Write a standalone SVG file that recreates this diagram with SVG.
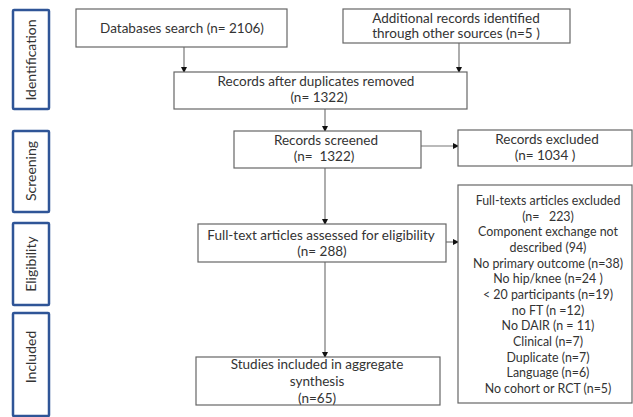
<svg xmlns="http://www.w3.org/2000/svg" width="633" height="417" viewBox="0 0 633 417">
<style>
.box{fill:#fff;stroke:#666;stroke-width:1.2}
.side{fill:#fff;stroke:#2f5597;stroke-width:2.5}
.t{font-family:Lato,"Liberation Sans",sans-serif;font-size:13.5px;fill:#333;text-anchor:middle;white-space:pre}
.s{font-family:Lato,"Liberation Sans",sans-serif;font-size:12.4px;fill:#333;text-anchor:middle;white-space:pre}
.st{font-family:Lato,"Liberation Sans",sans-serif;font-size:14px;fill:#333;text-anchor:middle}
.c{stroke:#777;stroke-width:1.2;fill:none;marker-end:url(#ah)}
</style>
<defs>
<marker id="ah" markerWidth="6" markerHeight="6" refX="5" refY="3" orient="auto" markerUnits="userSpaceOnUse">
<path d="M0,0 L6,3 L0,6 Z" fill="#111"/>
</marker>
</defs>
<rect width="633" height="417" fill="#fff"/>
<g id="stage-identification">
<rect class="side" x="13" y="10" width="36" height="99" rx="1"/>
<text class="st" transform="translate(36,60) rotate(-90)">Identification</text>
</g>
<g id="stage-screening">
<rect class="side" x="13" y="131" width="36" height="81" rx="1"/>
<text class="st" transform="translate(36,171) rotate(-90)">Screening</text>
</g>
<g id="stage-eligibility">
<rect class="side" x="13" y="223" width="36" height="82" rx="1"/>
<text class="st" transform="translate(36,264) rotate(-90)">Eligibility</text>
</g>
<g id="stage-included">
<rect class="side" x="13" y="313" width="36" height="103" rx="1"/>
<text class="st" transform="translate(36,357) rotate(-90)">Included</text>
</g>
<g id="connectors">
<line class="c" x1="184" y1="47" x2="184" y2="72"/>
<line class="c" x1="459" y1="43" x2="459" y2="72"/>
<line class="c" x1="325" y1="109" x2="325" y2="131"/>
<line class="c" x1="421" y1="146" x2="458" y2="146"/>
<line class="c" x1="325" y1="168" x2="325" y2="224"/>
<line class="c" x1="446" y1="242" x2="458" y2="242"/>
<line class="c" x1="325" y1="262" x2="325" y2="357"/>
</g>
<g id="databases">
<rect class="box" x="76" y="9" width="211" height="38"/>
<text class="t" x="182" y="33">Databases search (n= 2106)</text>
</g>
<g id="additional">
<rect class="box" x="343" y="9" width="227" height="34"/>
<text class="t" x="456" y="23">Additional records identified</text>
<text class="t" x="456" y="38">through other sources (n=5 )</text>
</g>
<g id="duplicates">
<rect class="box" x="174" y="72" width="293" height="37"/>
<text class="t" x="316" y="86">Records after duplicates removed</text>
<text class="t" x="319" y="102">(n= 1322)</text>
</g>
<g id="screened">
<rect class="box" x="234" y="131" width="187" height="37"/>
<text class="t" x="326" y="145">Records screened</text>
<text class="t" x="324" y="161">(n=  1322)</text>
</g>
<g id="excluded">
<rect class="box" x="458" y="130" width="174" height="36"/>
<text class="t" x="547" y="144">Records excluded</text>
<text class="t" x="545" y="160">(n= 1034 )</text>
</g>
<g id="fulltext-assessed">
<rect class="box" x="198" y="224" width="248" height="38"/>
<text class="t" x="321" y="240">Full-text articles assessed for eligibility</text>
<text class="t" x="322" y="256">(n= 288)</text>
</g>
<g id="fulltext-excluded">
<rect class="box" x="458" y="185" width="174" height="218"/>
<text class="s" x="548" y="205">Full-texts articles excluded</text>
<text class="s" x="548" y="221">(n=   223)</text>
<text class="s" x="548" y="236">Component exchange not</text>
<text class="s" x="548" y="252">described (94)</text>
<text class="s" x="548" y="268">No primary outcome (n=38)</text>
<text class="s" x="548" y="283">No hip/knee (n=24 )</text>
<text class="s" x="548" y="299">&lt; 20 participants (n=19)</text>
<text class="s" x="548" y="315">no FT (n =12)</text>
<text class="s" x="548" y="330">No DAIR (n = 11)</text>
<text class="s" x="548" y="346">Clinical (n=7)</text>
<text class="s" x="548" y="362">Duplicate (n=7)</text>
<text class="s" x="548" y="377">Language (n=6)</text>
<text class="s" x="548" y="393">No cohort or RCT (n=5)</text>
</g>
<g id="included">
<rect class="box" x="196" y="357" width="244" height="48"/>
<text class="t" x="317" y="369">Studies included in aggregate</text>
<text class="t" x="317" y="386">synthesis</text>
<text class="t" x="317" y="403">(n=65)</text>
</g>
</svg>
